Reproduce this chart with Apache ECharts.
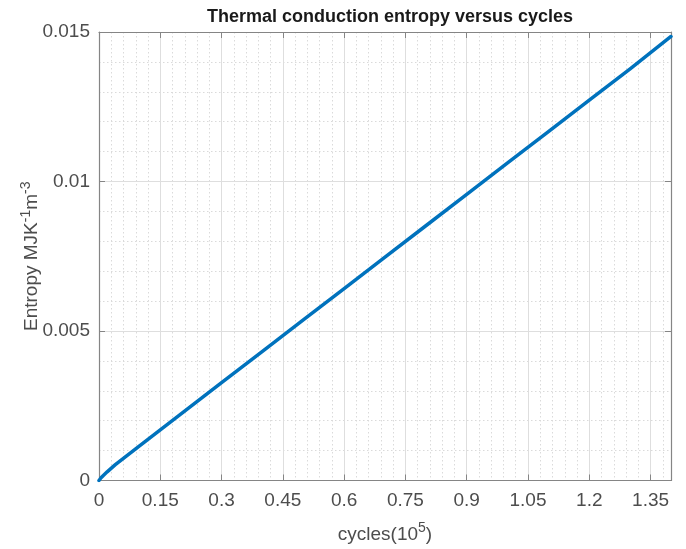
<!DOCTYPE html>
<html>
<head>
<meta charset="utf-8">
<script src="https://cdn.jsdelivr.net/npm/echarts@6/dist/echarts.min.js"></script>
<style>
  html, body { margin: 0; padding: 0; background: #fff; }
  #chart { width: 686px; height: 549px; }
</style>
</head>
<body>
<div id="chart"></div>
<script>
// Cycles (in units of 10^5) and thermal conduction entropy (MJ K^-1 m^-3)
const cycles = [0, 0.005, 0.01, 0.02, 0.04, 0.1, 0.2, 0.3, 0.4, 0.5, 0.6, 0.7, 0.8, 0.9, 1.0, 1.1, 1.2, 1.3, 1.4];
const entropy = [0, 0.00009, 0.00016, 0.00029, 0.00053, 0.00117, 0.00222, 0.00327, 0.00432, 0.00537, 0.00642, 0.00747, 0.00852, 0.00957, 0.01062, 0.01167, 0.01272, 0.01377, 0.01485];

const FONT = '"Liberation Sans", Arial, Helvetica, sans-serif';
const BOX = '#858585';
const LABEL = '#4d4d4d';
const FS = 19;

const chart = echarts.init(document.getElementById('chart'), null, { renderer: 'canvas' });

const grid = { left: 99, right: 15, top: 32, bottom: 66 };

// major axis: box line, inward ticks, solid grid
function majorAxis(pos, min, max, interval, showLabels, extra) {
  return Object.assign({
    type: 'value', position: pos, min: min, max: max, interval: interval,
    z: 2,
    axisLine: { show: true, onZero: false, lineStyle: { color: BOX, width: 1.2 } },
    axisTick: { show: true, inside: true, length: 6, lineStyle: { color: BOX } },
    axisLabel: { show: showLabels, color: LABEL, fontFamily: FONT, fontSize: FS },
    splitLine: { show: showLabels, lineStyle: { color: '#dedede', width: 1 } }
  }, extra || {});
}
// minor dotted grid
function minorAxis(pos, min, max, interval) {
  return {
    type: 'value', position: pos, min: min, max: max, interval: interval, z: 0,
    axisLine: { show: false }, axisTick: { show: false }, axisLabel: { show: false },
    splitLine: { show: true, lineStyle: { color: '#dadada', type: [1.5, 2.5], width: 1 } }
  };
}

const seriesData = cycles.map((c, i) => [c, entropy[i]]);

const richLabel = {
  n: { fontFamily: FONT, fontSize: FS, color: LABEL },
  s: { fontFamily: FONT, fontSize: 14, color: LABEL, verticalAlign: 'top', padding: [0, 0, 12, 0] }
};

chart.setOption({
  animation: false,
  backgroundColor: '#ffffff',
  title: {
    text: 'Thermal conduction entropy versus cycles',
    left: 385, top: 3, textAlign: 'center',
    textStyle: { fontFamily: FONT, fontWeight: 'bold', fontSize: 18, color: '#1a1a1a' }
  },
  grid: grid,
  xAxis: [
    majorAxis('bottom', 0, 1.4, 0.15, true, {
      name: '{n|cycles(10}{s|5}{n|)}',
      nameLocation: 'middle', nameGap: 41, nameMoveOverlap: false,
      nameTextStyle: { rich: richLabel },
      axisLabel: { color: LABEL, fontFamily: FONT, fontSize: FS, margin: 11, showMaxLabel: false }
    }),
    minorAxis('bottom', 0, 1.4, 0.03),
    majorAxis('top', 0, 1.4, 0.15, false)
  ],
  yAxis: [
    majorAxis('left', 0, 0.015, 0.005, true, {
      name: '{n|Entropy MJK}{s|-1}{n|m}{s|-3}',
      nameLocation: 'middle', nameGap: 54, nameRotate: 90, nameMoveOverlap: false,
      nameTextStyle: { rich: richLabel },
      axisLabel: { color: LABEL, fontFamily: FONT, fontSize: FS, margin: 9 }
    }),
    minorAxis('left', 0, 0.015, 0.001),
    majorAxis('right', 0, 0.015, 0.005, false)
  ],
  series: [{
    type: 'line',
    xAxisIndex: 0, yAxisIndex: 0,
    data: seriesData,
    showSymbol: false,
    smooth: false,
    z: 5,
    lineStyle: { color: '#0072BD', width: 3.5, join: 'round', cap: 'round' }
  }]
});
</script>
</body>
</html>
